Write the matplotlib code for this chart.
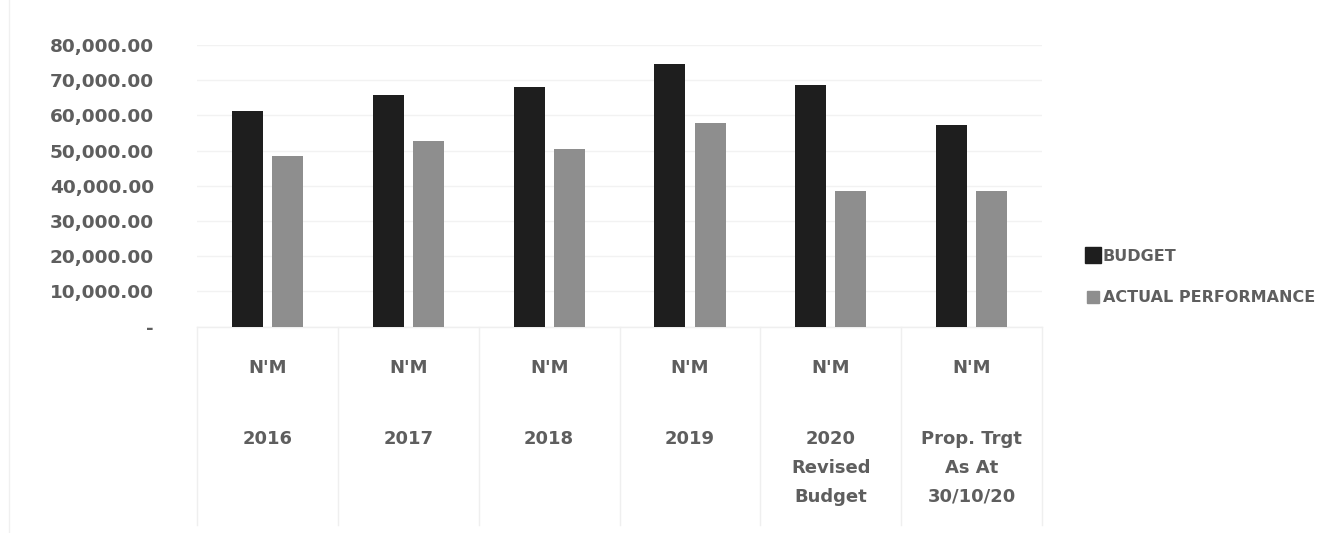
import matplotlib.pyplot as plt
import matplotlib.transforms as mtransforms
from matplotlib.lines import Line2D
import numpy as np

plt.rcParams['font.family'] = ['DejaVu Sans']

# budget vs actual performance, N'M
categories = ["2016", "2017", "2018", "2019", "2020\nRevised\nBudget", "Prop. Trgt\nAs At\n30/10/20"]
unit_label = "N'M"
budget = [61250, 65700, 68150, 74500, 68700, 57300]
actual = [48550, 52640, 50370, 57750, 38600, 38600]
yticks = [0, 10000, 20000, 30000, 40000, 50000, 60000, 70000, 80000]

TEXT_COL = "#5e5e5e"
BUDGET_COL = "#1e1e1e"
ACTUAL_COL = "#8e8e8e"

fig = plt.figure(figsize=(13.36, 5.33), dpi=100)
ax = fig.add_axes([0.1475, 0.3872, 0.6325, 0.5284])

x = np.arange(len(categories))
w = 0.22
off = 0.143
ax.bar(x - off, budget, w, color=BUDGET_COL, label="BUDGET", zorder=3)
ax.bar(x + off, actual, w, color=ACTUAL_COL, label="ACTUAL PERFORMANCE", zorder=3)

ax.set_xlim(-0.5, len(categories) - 0.5)
ax.set_ylim(0, 80000)
ax.set_yticks(yticks)
ax.set_yticklabels(["-" if v == 0 else "{:,.2f}".format(v) for v in yticks])
ax.tick_params(axis="y", length=0, pad=31, labelsize=13.3, labelcolor=TEXT_COL)
for lab in ax.get_yticklabels():
    lab.set_fontweight("bold")
ax.set_xticks([])
ax.grid(axis="y", color="#f2f2f2", linewidth=1, zorder=0)
for s in ax.spines.values():
    s.set_visible(False)

# category table under the bars
trans = mtransforms.blended_transform_factory(ax.transData, ax.transAxes)
ax.plot([-0.5, len(categories) - 0.5], [0, 0], transform=trans, color="#efefef",
        linewidth=1, clip_on=False)
for b in np.arange(len(categories) + 1) - 0.5:
    ax.plot([b, b], [0, -0.705], transform=trans, color="#efefef", linewidth=1, clip_on=False)
for i, cat in enumerate(categories):
    ax.text(i, -0.147, unit_label, transform=trans, ha="center", va="center",
            fontsize=13, fontweight="bold", color=TEXT_COL)
    ax.text(i, -0.367, cat, transform=trans, ha="center", va="top",
            fontsize=13, fontweight="bold", color=TEXT_COL, linespacing=1.78)

# legend
handles = [Line2D([], [], marker="s", linestyle="none", markersize=11, color=BUDGET_COL),
           Line2D([], [], marker="s", linestyle="none", markersize=8, color=ACTUAL_COL)]
leg = fig.legend(handles, ["BUDGET", "ACTUAL PERFORMANCE"], loc="center left",
                 bbox_to_anchor=(0.808, 0.48), frameon=False, handlelength=0.7,
                 handletextpad=0.25, labelspacing=1.65, borderpad=0,
                 prop={"size": 11.5, "weight": "bold"})
for t in leg.get_texts():
    t.set_color(TEXT_COL)

fig.add_artist(Line2D([0.007, 0.007], [0, 1], transform=fig.transFigure, color="#f0f0f0", linewidth=1))

fig.savefig("out.png", dpi=100)
